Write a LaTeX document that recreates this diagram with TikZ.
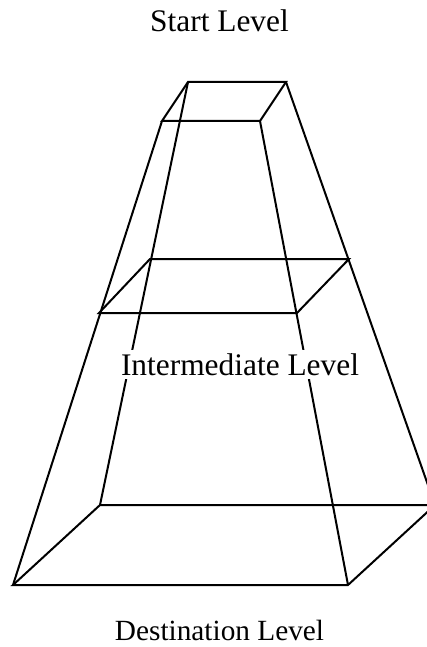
\documentclass[tikz,border=0pt]{standalone}
\usepackage{fontspec}
\setmainfont{Liberation Serif}
\begin{document}
\begin{tikzpicture}[x=1pt,y=-1pt,
  edge/.style={line width=2pt},
  lvl/.style={font=\fontsize{31.4}{37}\selectfont, anchor=base},
  midlvl/.style={lvl, fill=white},
  destlvl/.style={anchor=base, font=\fontsize{29.3}{35}\selectfont}]
\useasboundingbox (0,0) rectangle (427,647);
\clip (0,0) rectangle (427,647);
% top level
\coordinate (a1) at (188,82);
\coordinate (a2) at (286,82);
\coordinate (a3) at (260,121);
\coordinate (a4) at (162,121);
% middle level
\coordinate (b1) at (150,259);
\coordinate (b2) at (349,259);
\coordinate (b3) at (297,313);
\coordinate (b4) at (99,313);
% bottom level
\coordinate (c1) at (100,505);
\coordinate (c2) at (435,505);
\coordinate (c3) at (348,585);
\coordinate (c4) at (13,585);
\draw[edge] (a1) -- (a2) -- (a3) -- (a4) -- cycle;
\draw[edge] (b1) -- (b2) -- (b3) -- (b4) -- cycle;
\draw[edge] (c1) -- (c2) -- (c3) -- (c4) -- cycle;
\draw[edge] (a4) -- (c4);
\draw[edge] (a1) -- (c1);
\draw[edge] (a3) -- (c3);
\draw[edge] (a2) -- (c2);
\node[lvl] (start) at (219.5,32) {Start Level};
\node[midlvl] (mid) at (240,375) {Intermediate Level};
\node[destlvl] (dest) at (219.5,640) {Destination Level};
\end{tikzpicture}
\end{document}
